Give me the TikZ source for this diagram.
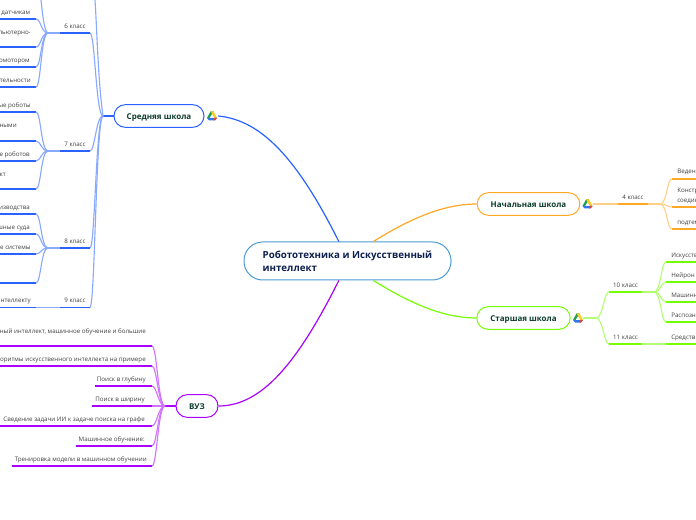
\documentclass[tikz,border=0pt]{standalone}
\usepackage{fontspec}
\setmainfont{Open Sans}
\usetikzlibrary{positioning,calc}
\definecolor{AccentBlue}{RGB}{41, 98, 255}
\definecolor{AccentOrange}{RGB}{255, 167, 38}
\definecolor{AccentGreen}{RGB}{118, 255, 3}
\definecolor{AccentPurple}{RGB}{170, 0, 255}
\definecolor{RootEdge}{RGB}{74, 155, 212}
\definecolor{RootText}{RGB}{13, 31, 79}
\definecolor{TopicText}{RGB}{11, 61, 46}
\definecolor{LeafText}{RGB}{64, 64, 64}
\definecolor{DriveGreen}{RGB}{30, 160, 80}
\definecolor{DriveYellow}{RGB}{255, 200, 30}
\definecolor{DriveBlue}{RGB}{50, 120, 235}
\definecolor{DriveRed}{RGB}{230, 70, 50}
\tikzset{
  topic/.style={draw=#1, line width=0.75pt, fill=white, rounded corners=8.5pt, minimum height=17pt, inner sep=0pt,
    text height=4.6pt, text depth=0pt, text=TopicText, font=\fontsize{6}{7}\selectfont\bfseries},
  leaf/.style={text=LeafText, font=\fontsize{4.65}{6}\selectfont, inner sep=0pt},
  under/.style={draw=#1, line width=1.1pt},
  stem/.style={draw=#1!55, line width=0.85pt},
  branch/.style={draw=#1, line width=0.9pt},
  drive/.pic={
    \fill[DriveGreen] (-1.5,-4.5) -- (1.5,-4.5) -- (-2.5,2) -- (-5,2) -- cycle;
    \fill[DriveYellow] (-1.5,-4.5) -- (1.5,-4.5) -- (5,2) -- (2.5,2) -- cycle;
    \fill[DriveBlue] (-5,2) -- (5,2) -- (3,4.5) -- (-3,4.5) -- cycle;
    \fill[DriveRed] (2.5,2) -- (5,2) -- (3,4.5) -- (1.5,4.5) -- cycle;
  }
}
\begin{document}
\begin{tikzpicture}[x=0.75pt, y=-0.75pt]
    \useasboundingbox[clip] (0,0) rectangle (696,520);

    % Root and topics
    \node[draw=RootEdge, line width=0.75pt, fill=white, rounded corners=14pt, minimum height=28.5pt,
      minimum width=155.25pt, inner sep=0pt, align=left, text=RootText,
      font=\fontsize{7.3}{9.8}\selectfont\bfseries] (root) at (347.5,261) {Робототехника и Искусственный\\интеллект};
    \node[topic=AccentBlue, minimum width=67.5pt] (middle) at (159,116) {Средняя школа};
    \node[topic=AccentOrange, minimum width=77pt] (primary) at (528.5,204) {Начальная школа};
    \node[topic=AccentGreen, minimum width=70pt] (senior) at (523.5,318) {Старшая школа};
    \node[topic=AccentPurple, minimum width=31.5pt] (uni) at (197,406) {ВУЗ};

    % Icons
    \coordinate (middleicon) at (212,116);
    \coordinate (primaryicon) at (587.5,204);
    \coordinate (senioricon) at (578,318);
    \pic at (middleicon) {drive};
    \pic at (primaryicon) {drive};
    \pic at (senioricon) {drive};

    % Main branches
    \draw[branch=AccentBlue] (root.114) .. controls (298,160) and (262,120) .. ($(middleicon)+(6,0)$);
    \draw[branch=AccentOrange] (root.37) .. controls (405,222) and (440,204) .. (primary.west);
    \draw[branch=AccentGreen] (root.-37) .. controls (405,300) and (440,318) .. (senior.west);
    \draw[branch=AccentPurple] (root.-114) .. controls (298,362) and (262,406) .. (uni.east);

    % Middle school
    \coordinate (middlehub) at (103,116);
    \coordinate (middletop) at (95,0);
    \draw[under=AccentBlue] (middle.west) -- (middlehub);
    \draw[stem=AccentBlue] (middlehub) .. controls (98,80) and (97,30) .. (middletop);
    \foreach \name/\y/\lbl in {six/33/6 класс, seven/151/7 класс, eight/248/8 класс, nine/307.5/9 класс} {
      \coordinate (\name end) at (90,\y);
      \coordinate (\name start) at (60,\y);
      \coordinate (\name hub) at (48,\y);
      \node[leaf, anchor=base] (\name) at (75,\y-4.5) {\lbl};
      \draw[stem=AccentBlue] (middlehub) .. controls +(-7,0) and +(5,0) .. (\name end);
      \draw[under=AccentBlue] (\name end) -- (\name start);
      \draw[stem=AccentBlue] (\name start) -- (\name hub);
    }
    \foreach \i/\hub/\y/\ty/\x/\txt in {
      1/six/19/14/30.5/к датчикам, 2/six/47/34/31/пьютерно-, 3/six/67/62/30/омотором, 4/six/87/82/31/тельности,
      5/seven/112/107/31/ые роботы, 6/seven/141/127/17/ными, 7/seven/161/156/30/е роботов, 8/seven/189/176/6/кт,
      9/eight/214/209/30/изводства, 10/eight/234/229/30/шные суда, 11/eight/254/249/31/е системы} {
      \coordinate (midend\i) at (36,\y);
      \coordinate (midstart\i) at (0,\y);
      \node[leaf, anchor=base east] (midleaf\i) at (\x,\ty+1) {\txt};
      \draw[under=AccentBlue] (midend\i) -- (midstart\i);
      \draw[stem=AccentBlue] (\hub hub) .. controls +(-7,0) and +(5,0) .. (midend\i);
    }
    \coordinate (midend12) at (36,283);
    \coordinate (midstart12) at (0,283);
    \draw[under=AccentBlue] (midend12) -- (midstart12);
    \draw[stem=AccentBlue] (eighthub) .. controls +(-7,0) and +(5,0) .. (midend12);
    \coordinate (sixtop) at (41,0);
    \draw[stem=AccentBlue] (sixhub) .. controls +(-4,0) and +(1,8) .. (sixtop);
    \coordinate (nineleafend) at (36,307.5);
    \coordinate (nineleafstart) at (0,307.5);
    \node[leaf, anchor=base east] (nineleaf) at (31,303) {нтеллекту};
    \draw[under=AccentBlue] (nineleafend) -- (nineleafstart);
    \draw[stem=AccentBlue] (ninehub) -- (nineleafend);

    % Primary school
    \coordinate (fourstart) at (618,204);
    \coordinate (fourend) at (648,204);
    \coordinate (fourhub) at (660,204);
    \node[leaf, anchor=base] (four) at (633,199.5) {4 класс};
    \draw[stem=AccentOrange] ($(primaryicon)+(5,0)$) -- (fourstart);
    \draw[under=AccentOrange] (fourstart) -- (fourend);
    \draw[stem=AccentOrange] (fourend) -- (fourhub);
    \foreach \i/\y/\ty/\txt in {1/179/174/Ведени, 2/207/193/Констр, 3/229/225/подтем} {
      \coordinate (fourend\i) at (672,\y);
      \coordinate (fourline\i) at (696,\y);
      \node[leaf, anchor=base west] (fourleaf\i) at (677,\ty) {\txt};
      \draw[stem=AccentOrange] (fourhub) .. controls +(7,0) and +(-5,0) .. (fourend\i);
      \draw[under=AccentOrange] (fourend\i) -- (fourline\i);
    }
    \node[leaf, anchor=base west] (fourleafb) at (677,203) {соедин};

    % Senior school
    \coordinate (seniorhub) at (596,318);
    \draw[stem=AccentGreen] ($(senioricon)+(5,0)$) -- (seniorhub);
    \foreach \name/\y/\lbl in {ten/292/10 класс, eleven/344/11 класс} {
      \coordinate (\name start) at (609,\y);
      \coordinate (\name end) at (642,\y);
      \node[leaf, anchor=base] (\name) at (625.5,\y-4.5) {\lbl};
      \draw[stem=AccentGreen] (seniorhub) .. controls +(7,0) and +(-5,0) .. (\name start);
      \draw[under=AccentGreen] (\name start) -- (\name end);
    }
    \coordinate (tenhub) at (654,292);
    \draw[stem=AccentGreen] (tenend) -- (tenhub);
    \foreach \i/\y/\txt in {1/262/Искусств, 2/282/Нейрон, 3/302/Машинн, 4/322/Распозн} {
      \coordinate (tenend\i) at (666,\y);
      \coordinate (tenline\i) at (696,\y);
      \node[leaf, anchor=base west] (tenleaf\i) at (671,\y-4.5) {\txt};
      \draw[stem=AccentGreen] (tenhub) .. controls +(7,0) and +(-5,0) .. (tenend\i);
      \draw[under=AccentGreen] (tenend\i) -- (tenline\i);
    }
    \coordinate (elevenjoin) at (666,344);
    \coordinate (elevenline) at (696,344);
    \node[leaf, anchor=base west] (elevenleaf) at (671,339.5) {Средств};
    \draw[stem=AccentGreen] (elevenend) -- (elevenjoin);
    \draw[under=AccentGreen] (elevenjoin) -- (elevenline);

    % University
    \coordinate (unihub) at (165,406);
    \draw[under=AccentPurple] (uni.west) -- (unihub);
    \foreach \i/\y/\ty/\x/\l/\txt in {
      1/346/333/146/0/{ный интеллект, машинное обучение и большие},
      2/366/361/146/0/горитмы искусственного интеллекта на примере,
      3/386/381/146/95/Поиск в глубину,
      4/406/401/145/92/Поиск в ширину,
      5/426/421/145/0/Сведение задачи ИИ к задаче поиска на графе,
      6/446/441/145/76/Машинное обучение:,
      7/466/461/147/12/Тренировка модели в машинном обучении} {
      \coordinate (uniend\i) at (152,\y);
      \coordinate (unistart\i) at (\l,\y);
      \node[leaf, anchor=base east] (unileaf\i) at (\x,\ty+0.5) {\txt};
      \draw[under=AccentPurple] (uniend\i) -- (unistart\i);
      \draw[stem=AccentPurple] (unihub) .. controls +(-7,0) and +(5,0) .. (uniend\i);
    }
\end{tikzpicture}
\end{document}
